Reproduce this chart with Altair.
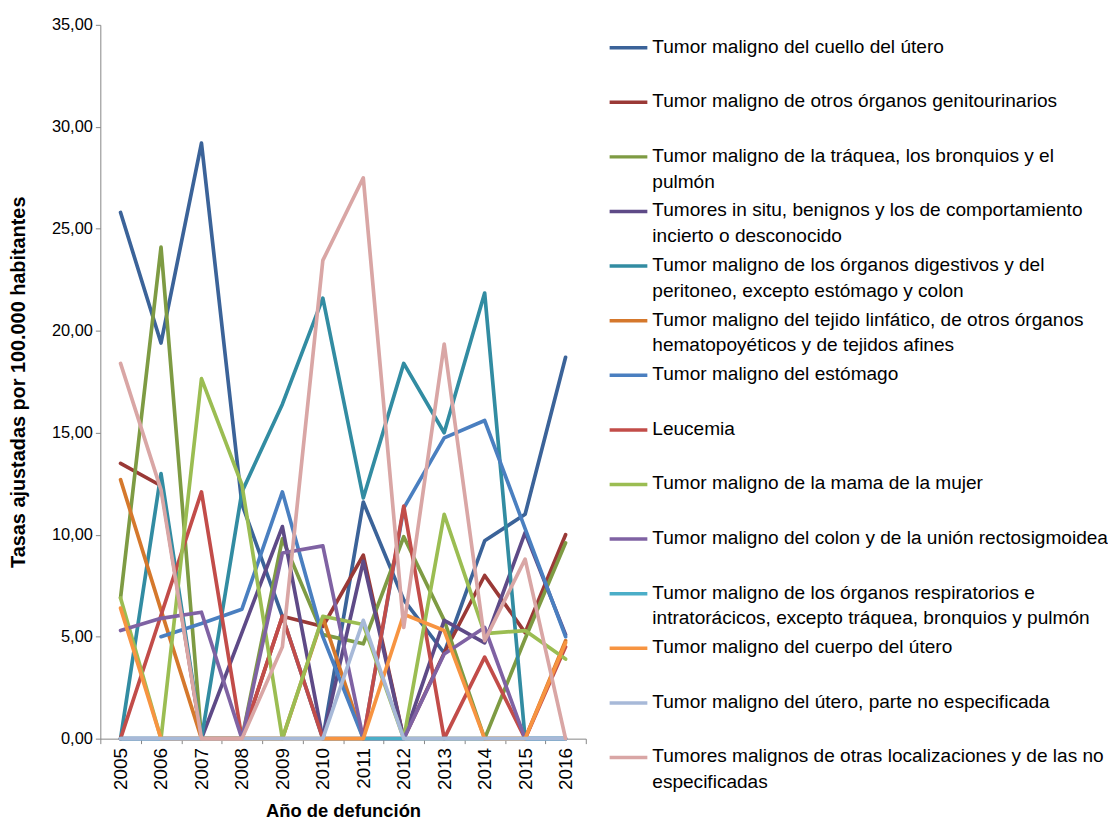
import altair as alt
import pandas as pd

years = [2005, 2006, 2007, 2008, 2009, 2010, 2011, 2012, 2013, 2014, 2015, 2016]

names = [
    "Tumor maligno del cuello del útero",
    "Tumor maligno de otros órganos genitourinarios",
    "Tumor maligno de la tráquea, los bronquios y el pulmón",
    "Tumores in situ, benignos y los de comportamiento incierto o desconocido",
    "Tumor maligno de los órganos digestivos y del peritoneo, excepto estómago y colon",
    "Tumor maligno del tejido linfático, de otros órganos hematopoyéticos y de tejidos afines",
    "Tumor maligno del estómago",
    "Leucemia",
    "Tumor maligno de la mama de la mujer",
    "Tumor maligno del colon y de la unión rectosigmoidea",
    "Tumor maligno de los órganos respiratorios e intratorácicos, excepto tráquea, bronquios y pulmón",
    "Tumor maligno del cuerpo del útero",
    "Tumor maligno del útero, parte no especificada",
    "Tumores malignos de otras localizaciones y de las no especificadas",
]

legend_labels = [
    "Tumor maligno del cuello del útero",
    "Tumor maligno de otros órganos genitourinarios",
    "Tumor maligno de la tráquea, los bronquios y el\npulmón",
    "Tumores in situ, benignos y los de comportamiento\nincierto o desconocido",
    "Tumor maligno de los órganos digestivos y del\nperitoneo, excepto estómago y colon",
    "Tumor maligno del tejido linfático, de otros órganos\nhematopoyéticos y de tejidos afines",
    "Tumor maligno del estómago",
    "Leucemia",
    "Tumor maligno de la mama de la mujer",
    "Tumor maligno del colon y de la unión rectosigmoidea",
    "Tumor maligno de los órganos respiratorios e\nintratorácicos, excepto tráquea, bronquios y pulmón",
    "Tumor maligno del cuerpo del útero",
    "Tumor maligno del útero, parte no especificada",
    "Tumores malignos de otras localizaciones y de las no\nespecificadas",
]

colors = [
    "#3B6399", "#9A3936", "#7E9B43", "#5E4A87", "#328CA2", "#D5782C", "#4A7FC0",
    "#C24C49", "#9BBD52", "#7F62A3", "#4BAEC8", "#F79441", "#A7B9D8", "#D9A6A5",
]

cuello = [25.8, 19.4, 29.2, 11.5, 6.0, 0.0, 11.6, 6.8, 4.2, 9.7, 11.0, 18.7]
genitourinarios = [13.5, 12.4, 0.0, 0.0, 6.0, 5.5, 9.0, 0.0, 4.2, 8.0, 5.2, 10.0]
traquea = [6.9, 24.1, 0.0, 0.0, 9.8, 5.1, 4.65, 9.9, 5.8, 0.0, 4.9, 9.6]
in_situ = [0.0, 0.0, 0.0, 5.2, 10.4, 0.0, 8.7, 0.0, 5.8, 4.7, 10.1, 5.1]
digestivos = [0.0, 13.0, 0.0, 12.1, 16.4, 21.6, 11.8, 18.4, 15.0, 21.85, 0.0, 0.0]
linfatico = [12.7, 6.3, 0.0, 0.0, 0.0, 5.95, 0.0, 0.0, 0.0, 0.0, 0.0, 4.8]
estomago = [None, 5.0, 5.65, 6.35, 12.1, 5.0, 0.0, 11.3, 14.75, 15.6, 10.3, 5.0]
leucemia = [0.0, 6.05, 12.1, 0.0, 6.0, 0.0, 0.0, 11.4, 0.0, 4.0, 0.0, 4.5]
mama = [6.9, 0.0, 17.65, 12.45, 0.0, 6.0, 5.6, 0.0, 11.0, 5.15, 5.3, 3.9]
colon = [5.3, 5.9, 6.2, 0.0, 9.1, 9.45, 0.0, 0.0, 4.15, 5.45, 0.0, 0.0]
respiratorios = [0.0, 0.0, 0.0, 0.0, 0.0, 0.0, 0.0, 0.0, 0.0, 0.0, 0.0, 0.0]
cuerpo_utero = [6.4, 0.0, 0.0, 0.0, 0.0, 0.0, 0.0, 6.1, 5.3, 0.0, 0.0, 4.7]
utero_ne = [0.0, 0.0, 0.0, 0.0, 0.0, 0.0, 5.8, 0.0, 0.0, 0.0, 0.0, 0.0]
otras = [18.4, 12.2, 0.0, 0.0, 4.5, 23.45, 27.5, 5.45, 19.35, 4.8, 8.8, 0.0]

series_values = [cuello, genitourinarios, traquea, in_situ, digestivos, linfatico, estomago,
                 leucemia, mama, colon, respiratorios, cuerpo_utero, utero_ne, otras]

y_ticks = [0, 5, 10, 15, 20, 25, 30, 35]

rows = []
for name, vals in zip(names, series_values):
    for yr, v in zip(years, vals):
        if v is not None:
            rows.append({"serie": name, "anio": str(yr), "tasa": v})
df = pd.DataFrame(rows)
legend_df = pd.DataFrame({"serie": names, "etiqueta": legend_labels})

FONT = "Liberation Sans"
color_scale = alt.Scale(domain=names, range=colors)

lines = alt.Chart(df).mark_line(strokeWidth=3.7, strokeJoin="round", strokeCap="round").encode(
    x=alt.X("anio:O", title="Año de defunción",
            scale=alt.Scale(type="band", paddingInner=0, paddingOuter=0),
            axis=alt.Axis(labelAngle=-90, tickBand="extent", labelFontSize=19, labelPadding=4,
                          tickSize=5, titleFontSize=18.5, titleFontWeight="bold", titlePadding=12)),
    y=alt.Y("tasa:Q", title="Tasas ajustadas por 100.000 habitantes",
            scale=alt.Scale(domain=[0, 35], nice=False),
            axis=alt.Axis(values=y_ticks, grid=False, tickSize=5, labelFontSize=16.5, labelPadding=3,
                          labelExpr="replace(format(datum.value, '.2f'), '.', ',')",
                          titleFontSize=20, titleFontWeight="bold", titlePadding=23)),
    color=alt.Color("serie:N", scale=color_scale, legend=None),
)

leg_y = alt.Y("serie:N", sort=names, axis=None,
              scale=alt.Scale(type="point", range=[23, 738], padding=0))
leg_x_scale = alt.Scale(domain=[0, 1], range=[513, 551])

leg_rules = alt.Chart(legend_df).mark_rule(strokeWidth=3.5).encode(
    x=alt.XDatum(0, type="quantitative", scale=leg_x_scale, axis=None),
    x2=alt.X2Datum(1),
    y=leg_y,
    color=alt.Color("serie:N", scale=color_scale, legend=None),
)

leg_text = alt.Chart(legend_df).mark_text(
    align="left", baseline="top", dx=5, dy=-10, fontSize=19.2, lineHeight=26,
    lineBreak="\n", font=FONT, color="#000000"
).encode(
    x=alt.XDatum(1, type="quantitative", scale=leg_x_scale, axis=None),
    y=leg_y,
    text="etiqueta:N",
)

chart = alt.layer(lines, leg_rules, leg_text).resolve_scale(
    x="independent", y="independent"
).properties(
    width=489, height=719,
    padding={"left": 0, "top": 6, "right": 0, "bottom": 0},
).configure(font=FONT).configure_view(stroke=None).configure_axis(
    domainColor="#868686", tickColor="#868686", labelColor="#000000", titleColor="#000000",
    labelFont=FONT, titleFont=FONT,
)

chart.save("out.html", embed_options={"renderer": "svg", "actions": False})
